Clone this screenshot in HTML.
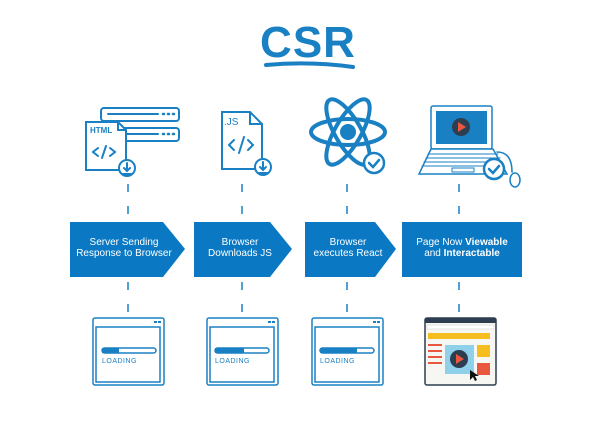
<!DOCTYPE html>
<html><head><meta charset="utf-8"><style>
html,body{margin:0;padding:0;background:#fff;}
svg{display:block;}
text{font-family:"Liberation Sans","DejaVu Sans",sans-serif;}
</style></head><body>
<svg width="600" height="433" viewBox="0 0 600 433" xmlns="http://www.w3.org/2000/svg">
<rect width="600" height="433" fill="#fff"/>
<!-- title -->
<text x="308" y="57" text-anchor="middle" font-size="44" font-weight="bold" fill="#1a80c4" letter-spacing="1">CSR</text>
<path d="M266 65 Q310 61 353 67" stroke="#1a80c4" stroke-width="4" fill="none" stroke-linecap="round"/>

<g stroke="#1a80c4" stroke-width="2" fill="none" stroke-linecap="round">
<!-- icon 1: servers + html doc -->
<rect x="101" y="108" width="78" height="13" rx="3" fill="#fff"/>
<rect x="101" y="128" width="78" height="13" rx="3" fill="#fff"/>
<line x1="108" y1="114" x2="158" y2="114"/><line x1="108" y1="134" x2="158" y2="134"/>
<path d="M163 114h1M168 114h1M173 114h1M163 134h1M168 134h1M173 134h1" stroke-width="2.5"/>
<path d="M86 122h32l8 8v40h-40z" fill="#fff"/>
<path d="M118 122v8h8"/>
<text x="90" y="133" font-size="8" font-weight="bold" fill="#1a80c4" stroke="none">HTML</text>
<path d="M98 148l-5 4 5 4M110 148l5 4-5 4M106 146l-4 12"/>
<circle cx="127" cy="168" r="8" fill="#fff"/>
<path d="M127 163v8M124 168l3 3 3-3M123 174h8"/>
<!-- icon 2: js doc -->
<path d="M222 112h28l12 12v45h-40z" fill="#fff"/>
<path d="M250 112v12h12"/>
<text x="224" y="125" font-size="10" fill="#1a80c4" stroke="none">.JS</text>
<path d="M234 140l-5 5 5 5M248 140l5 5-5 5M244 137l-5 16"/>
<circle cx="263" cy="167" r="8" fill="#fff"/>
<path d="M263 162v8M260 167l3 3 3-3M259 173h8"/>
<!-- atom -->
<g stroke-width="4">
<ellipse cx="348" cy="132" rx="37" ry="13"/>
<ellipse cx="348" cy="132" rx="37" ry="13" transform="rotate(60 348 132)"/>
<ellipse cx="348" cy="132" rx="37" ry="13" transform="rotate(-60 348 132)"/>
</g>
<circle cx="348" cy="132" r="7" fill="#1a80c4"/>
<circle cx="374" cy="163" r="10" fill="#fff" stroke-width="2.5"/>
<path d="M369 163l4 4 6-7" stroke-width="2.5"/>
<!-- laptop -->
<rect x="431" y="106" width="61" height="43" rx="2" fill="#fff" stroke-width="1.5"/>
<rect x="436" y="111" width="51" height="33" fill="#1a80c4" stroke="none"/>
<circle cx="461" cy="127" r="9" fill="#2c3e50" stroke="none"/>
<path d="M458 122v10l8-5z" fill="#e9573f" stroke="none"/>
<path d="M431 149l-12 25h88l-14-25z" fill="#fff" stroke-width="1.5"/>
<path d="M428 154h70M426 158h74M424 162h78M422 166h82" stroke-width="1"/>
<rect x="452" y="168" width="22" height="4" stroke-width="1"/>
<path d="M497 152q15 0 15 20" stroke-width="1.5"/>
<ellipse cx="515" cy="180" rx="5" ry="7" fill="#fff" stroke-width="1.5"/>
<circle cx="494" cy="169" r="10" fill="#fff" stroke-width="2.5"/>
<path d="M489 169l4 4 6-7" stroke-width="2.5"/>
</g>

<!-- dashed lines -->
<g stroke="#1a80c4" stroke-width="1.5" stroke-dasharray="8 14">
<line x1="128" y1="184" x2="128" y2="218"/><line x1="128" y1="282" x2="128" y2="315"/>
<line x1="242" y1="184" x2="242" y2="218"/><line x1="242" y1="282" x2="242" y2="315"/>
<line x1="347" y1="184" x2="347" y2="218"/><line x1="347" y1="282" x2="347" y2="315"/>
<line x1="459" y1="184" x2="459" y2="218"/><line x1="459" y1="282" x2="459" y2="315"/>
</g>

<!-- arrows -->
<g fill="#0a78c2">
<path d="M70 222h93l22 27-22 28h-93z"/>
<path d="M194 222h76l22 27-22 28h-76z"/>
<path d="M305 222h70l21 27-21 28h-70z"/>
<rect x="402" y="222" width="120" height="55"/>
</g>
<g fill="#fff" font-size="10" text-anchor="middle">
<text x="124" y="245">Server Sending</text><text x="124" y="256">Response to Browser</text>
<text x="240" y="245">Browser</text><text x="240" y="256">Downloads JS</text>
<text x="348" y="245">Browser</text><text x="348" y="256">executes React</text>
<text x="462" y="245">Page Now <tspan font-weight="bold">Viewable</tspan></text>
<text x="462" y="256">and <tspan font-weight="bold">Interactable</tspan></text>
</g>

<!-- loading boxes -->
<g stroke="#1a80c4" stroke-width="1.5" fill="#fff">
<rect x="93" y="318" width="71" height="67" rx="2"/>
<rect x="96" y="327" width="64" height="55"/>
<rect x="102" y="348" width="54" height="5" rx="2.5"/>
<rect x="207" y="318" width="71" height="67" rx="2"/>
<rect x="210" y="327" width="64" height="55"/>
<rect x="215" y="348" width="54" height="5" rx="2.5"/>
<rect x="312" y="318" width="71" height="67" rx="2"/>
<rect x="315" y="327" width="64" height="55"/>
<rect x="320" y="348" width="54" height="5" rx="2.5"/>
</g>
<g fill="#1a80c4">
<rect x="102" y="348" width="17" height="5"/><rect x="215" y="348" width="29" height="5"/><rect x="320" y="348" width="37" height="5"/>
<rect x="154" y="321" width="3" height="2"/><rect x="158" y="321" width="3" height="2"/>
<rect x="268" y="321" width="3" height="2"/><rect x="272" y="321" width="3" height="2"/>
<rect x="373" y="321" width="3" height="2"/><rect x="377" y="321" width="3" height="2"/>
</g>
<g fill="#1a80c4" font-size="7" letter-spacing="0.5">
<text x="102" y="363">LOADING</text><text x="215" y="363">LOADING</text><text x="320" y="363">LOADING</text>
</g>
<!-- final page -->
<rect x="425" y="318" width="71" height="67" rx="2" fill="#f6f6f2" stroke="#2c3e50" stroke-width="1.5"/>
<rect x="425" y="318" width="71" height="5" fill="#2c3e50"/>
<rect x="427" y="325" width="67" height="4" fill="#fff" stroke="#ccc" stroke-width="0.5"/>
<rect x="428" y="333" width="62" height="6" fill="#f5bd1f"/>
<g fill="#e9573f"><rect x="428" y="344" width="14" height="2"/><rect x="428" y="350" width="14" height="2"/><rect x="428" y="356" width="14" height="2"/><rect x="428" y="362" width="14" height="2"/></g>
<rect x="445" y="345" width="29" height="29" fill="#8fd0ea"/>
<circle cx="459" cy="359" r="9" fill="#2c3e50"/>
<path d="M456 354v10l8-5z" fill="#e9573f"/>
<rect x="477" y="345" width="13" height="12" fill="#f5bd1f"/>
<rect x="477" y="363" width="13" height="12" fill="#e9573f"/>
<path d="M470 370l0 10 3-3 2 4 2-1-2-4 4 0z" fill="#111"/>
</svg>
</body></html>
